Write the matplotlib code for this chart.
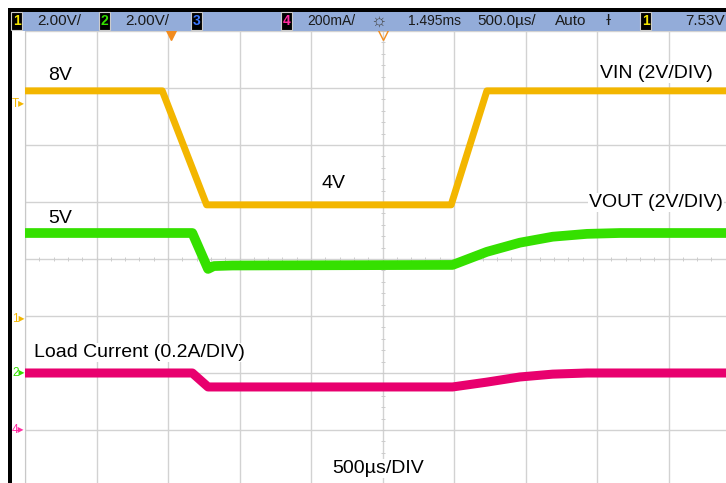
import numpy as np
import matplotlib
matplotlib.use('Agg')
import matplotlib.pyplot as plt
from matplotlib.patches import Rectangle
from matplotlib.transforms import blended_transform_factory

plt.rcParams['font.family'] = ['Liberation Sans', 'DejaVu Sans']

# time in ms from the trigger point, 500us/div
vin_t = [-1.0, -0.04, 0.27, 1.98, 2.23, 3.9]
vin_v = [8.0, 8.0, 4.0, 4.0, 8.0, 8.0]

vout_t = [-1.0, 0.17, 0.28, 0.32, 0.45, 1.99, 2.23, 2.46, 2.69, 2.93, 3.16, 3.9]
vout_v = [5.0, 5.0, 3.74, 3.84, 3.86, 3.88, 4.34, 4.66, 4.87, 4.97, 5.0, 5.0]

load_t = [-1.0, 0.17, 0.28, 1.99, 2.23, 2.46, 2.69, 2.93, 3.9]
load_a = [0.200, 0.200, 0.151, 0.151, 0.168, 0.186, 0.196, 0.200, 0.200]

# channel settings: volts (or amps) per div and ground position in divs
ch1_scale, ch1_off = 2.0, 2.95
ch2_scale, ch2_off = 2.0, 1.956
ch4_scale, ch4_off = 0.2, 1.0
trig_level = 7.53

c_yel = '#f3b600'
c_grn = '#35e000'
c_mag = '#e8006e'
c_bar = '#93acd9'

W, H = 726, 483


def fx(px):
    return px / W


def fy(py):
    return 1 - py / H


fig = plt.figure(figsize=(7.26, 4.83), dpi=100)
ax = fig.add_axes([fx(25), fy(487), 715 / W, 456 / H])
ax.set_xlim(-1.0, 4.0)
ax.set_ylim(0, 8)
ax.set_xticks(np.arange(-1.0, 4.01, 0.5))
ax.set_yticks(np.arange(0, 8.01, 1))
ax.grid(True, color='#d2d2d2', lw=1.0)
ax.tick_params(length=0, labelbottom=False, labelleft=False)
for s in ax.spines.values():
    s.set_visible(False)
ax.spines['left'].set_visible(True)
ax.spines['left'].set_color('#c8c8c8')

# small ticks on the centre lines
mx = np.arange(-1.0, 4.01, 0.1)
ax.plot(mx, np.full(len(mx), 4.0), ls='none', marker='|', ms=3.5, color='#cccccc', mew=0.7)
my = np.arange(0, 8.01, 0.2)
ax.plot(np.full(len(my), 1.5), my, ls='none', marker='_', ms=3.5, color='#cccccc', mew=0.7)

# traces
ax.plot(vin_t, np.array(vin_v) / ch1_scale + ch1_off, color=c_yel, lw=5, zorder=3)
ax.plot(vout_t, np.array(vout_v) / ch2_scale + ch2_off, color=c_grn, lw=7, zorder=3)
ax.plot(load_t, np.array(load_a) / ch4_scale + ch4_off, color=c_mag, lw=6.5, zorder=3)

# trigger / delay markers under the bar
ax.plot([0.02], [7.93], marker='v', ms=7, color='#f28c1e', clip_on=False, zorder=5)
ax.plot([1.5], [7.93], marker='v', ms=7, mfc='none', mec='#f28c1e', clip_on=False, zorder=5)

# ground markers on the left
tr = blended_transform_factory(fig.transFigure, ax.transData)
mk = dict(fontsize=8.5, transform=tr, va='center', clip_on=False)
ax.text(fx(12), trig_level / ch1_scale + ch1_off, 'T▸', color=c_yel, **mk)
ax.text(fx(12), ch1_off, '1▸', color=c_yel, **mk)
ax.text(fx(12), ch2_off + 0.04, '2▸', color=c_grn, **mk)
ax.text(fx(12), ch4_off, '4▸', color='#ff2aa0', **mk)

# frame and status bar
fig.patches.append(Rectangle((fx(8), fy(12)), 1, 4 / H, transform=fig.transFigure, fc='black', ec='none'))
fig.patches.append(Rectangle((fx(8), 0), 4 / W, fy(8), transform=fig.transFigure, fc='black', ec='none'))
fig.patches.append(Rectangle((fx(12), fy(31)), 1, 19 / H, transform=fig.transFigure, fc=c_bar, ec='none'))

by = fy(21)
bar_txt = dict(fontsize=11, color='#1a1a1a', va='center')
box = dict(fc='black', ec='#cccccc', lw=0.8, pad=1.2)
fig.text(fx(13), by, '1', color='#f5e600', fontsize=10, va='center', weight='bold', bbox=box)
fig.text(fx(37), by, '2.00V/', **bar_txt)
fig.text(fx(101), by, '2', color='#35e000', fontsize=10, va='center', weight='bold', bbox=box)
fig.text(fx(125), by, '2.00V/', **bar_txt)
fig.text(fx(193), by, '3', color='#3c78ff', fontsize=10, va='center', weight='bold', bbox=box)
fig.text(fx(283), by, '4', color='#ff2aa0', fontsize=10, va='center', weight='bold', bbox=box)
fig.text(fx(307), by, '200mA/', fontsize=10, color='#1a1a1a', va='center')
fig.text(fx(370), by, '☼', fontsize=13, color='#444444', va='center')
fig.text(fx(408), by, '1.495ms', fontsize=10, color='#1a1a1a', va='center')
fig.text(fx(477), by, '500.0µs/', **bar_txt)
fig.text(fx(555), by, 'Auto', **bar_txt)
fig.text(fx(606), by, 'ɫ', **bar_txt)
fig.text(fx(642), by, '1', color='#f5e600', fontsize=10, va='center', weight='bold', bbox=box)
fig.text(fx(685), by, '7.53V', **bar_txt)

# labels
lab = dict(fontsize=14, color='black', va='baseline',
           bbox=dict(fc='white', ec='none', pad=1))
fig.text(fx(48), fy(80), '8V', **lab)
fig.text(fx(48), fy(223), '5V', **lab)
fig.text(fx(322), fy(188), '4V', **lab)
fig.text(fx(600), fy(78), 'VIN (2V/DIV)', **lab)
fig.text(fx(589), fy(207), 'VOUT (2V/DIV)', **lab)
fig.text(fx(34), fy(357), 'Load Current (0.2A/DIV)', **lab)
fig.text(fx(332), fy(473), '500µs/DIV', **lab)

fig.savefig('out.png', dpi=100)
